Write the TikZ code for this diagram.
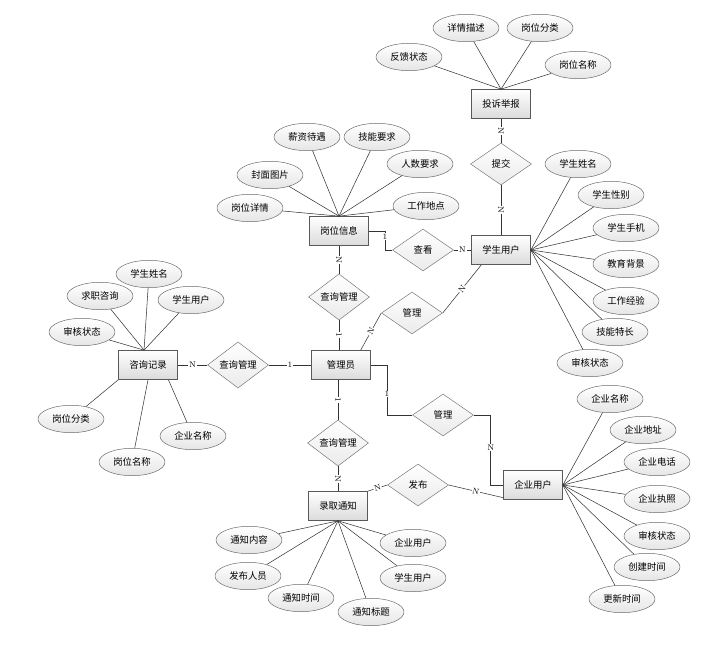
\documentclass[tikz,border=0pt]{standalone}
\usepackage{fontspec}
\newfontfamily\cjk{Noto Sans CJK SC}
\usetikzlibrary{shapes.geometric,shadows}

\begin{document}
\begin{tikzpicture}[
  x=0.03cm, y=-0.03cm,
  font=\cjk\fontsize{8}{9}\selectfont,
  entity/.style={rectangle, draw=black!65, line width=0.6pt,
                 top color=white, bottom color=black!14,
                 minimum width=1.77cm, minimum height=0.87cm, inner sep=1pt,
                 drop shadow={shadow xshift=0.7pt, shadow yshift=-0.7pt, opacity=0.35}},
  relation/.style={diamond, draw=black!55, top color=white, bottom color=black!8,
                   minimum width=1.83cm, minimum height=1.26cm, inner sep=0pt},
  attrib/.style={ellipse, draw=black!60, top color=white, bottom color=black!10,
                 minimum width=1.98cm, minimum height=0.82cm, inner sep=0pt},
  link/.style={draw=black!80, line width=0.45pt},
  card/.style={font=\rmfamily\fontsize{7}{7}\selectfont, fill=white, inner sep=0.6pt},
]
\useasboundingbox (0,0) rectangle (715,646);

\node[entity] (tsjb) at (501,104) {投诉举报};
\node[entity] (gwxx) at (339,231) {岗位信息};
\node[entity] (xsyh) at (501,250) {学生用户};
\node[entity] (zxjl) at (148,365) {咨询记录};
\node[entity] (gly)  at (341,365) {管理员};
\node[entity] (lqtz) at (338,506) {录取通知};
\node[entity] (qyyh) at (533,485) {企业用户};

\node[relation] (tj)    at (501,164) {提交};
\node[relation] (ck)    at (423,250) {查看};
\node[relation] (cxgl1) at (339,297) {查询管理};
\node[relation] (gl1)   at (412,313) {管理};
\node[relation] (cxgl2) at (238,365) {查询管理};
\node[relation] (cxgl3) at (338,443) {查询管理};
\node[relation] (gl2)   at (443,415) {管理};
\node[relation] (fb)    at (418,485) {发布};

\node[attrib] (fkzt)  at (409,57)  {反馈状态};
\node[attrib] (xqms)  at (466,28)  {详情描述};
\node[attrib] (gwfl)  at (540,28)  {岗位分类};
\node[attrib] (gwmc)  at (578,65)  {岗位名称};

\node[attrib] (xzdy)  at (307,137) {薪资待遇};
\node[attrib] (jnyq)  at (377,137) {技能要求};
\node[attrib] (rsyq)  at (420,164) {人数要求};
\node[attrib] (fmtp)  at (270,175) {封面图片};
\node[attrib] (gwxq)  at (250,208) {岗位详情};
\node[attrib] (gzdd)  at (426,206) {工作地点};

\node[attrib] (xsxm)  at (578,164) {学生姓名};
\node[attrib] (xsxb)  at (611,195) {学生性别};
\node[attrib] (xssj)  at (626,228) {学生手机};
\node[attrib] (jybj)  at (626,264) {教育背景};
\node[attrib] (gzjy)  at (626,301) {工作经验};
\node[attrib] (jntc)  at (615,332) {技能特长};
\node[attrib] (xshz)  at (590,363) {审核状态};

\node[attrib] (zxxm)  at (149,274) {学生姓名};
\node[attrib] (qzzx)  at (100,296) {求职咨询};
\node[attrib] (zxyh)  at (191,300) {学生用户};
\node[attrib] (zxhz)  at (82,332)  {审核状态};
\node[attrib] (zxfl)  at (71,419)  {岗位分类};
\node[attrib] (zxmc)  at (132,462) {岗位名称};
\node[attrib] (zxqy)  at (193,436) {企业名称};

\node[attrib] (tznr)  at (249,540) {通知内容};
\node[attrib] (fbry)  at (248,576) {发布人员};
\node[attrib] (tzsj)  at (301,598) {通知时间};
\node[attrib] (tzbt)  at (371,612) {通知标题};
\node[attrib] (tzqy)  at (413,543) {企业用户};
\node[attrib] (tzxs)  at (413,578) {学生用户};

\node[attrib] (qymc)  at (610,399) {企业名称};
\node[attrib] (qydz)  at (643,430) {企业地址};
\node[attrib] (qydh)  at (657,462) {企业电话};
\node[attrib] (qyzz)  at (657,499) {企业执照};
\node[attrib] (qyhz)  at (657,536) {审核状态};
\node[attrib] (cjsj)  at (647,567) {创建时间};
\node[attrib] (gxsj)  at (622,599) {更新时间};

\draw[link] (fkzt) -- (tsjb.north);
\draw[link] (xqms) -- (tsjb.north);
\draw[link] (gwfl) -- (tsjb.north);
\draw[link] (gwmc) -- (tsjb.north);

\draw[link] (xzdy) -- (gwxx.north);
\draw[link] (jnyq) -- (gwxx.north);
\draw[link] (rsyq) -- (gwxx.north);
\draw[link] (fmtp) -- (gwxx.north);
\draw[link] (gwxq) -- (gwxx.north);
\draw[link] (gzdd) -- (gwxx.north);

\draw[link] (xsxm) -- (xsyh.east);
\draw[link] (xsxb) -- (xsyh.east);
\draw[link] (xssj) -- (xsyh.east);
\draw[link] (jybj) -- (xsyh.east);
\draw[link] (gzjy) -- (xsyh.east);
\draw[link] (jntc) -- (xsyh.east);
\draw[link] (xshz) -- (xsyh.east);

\draw[link] (zxxm) -- (zxjl.105);
\draw[link] (qzzx) -- (zxjl.105);
\draw[link] (zxyh) -- (zxjl.105);
\draw[link] (zxhz) -- (zxjl.105);
\draw[link] (zxfl) -- (zxjl.south west);
\draw[link] (zxmc) -- (zxjl.south);
\draw[link] (zxqy) -- (zxjl.-36);

\draw[link] (tznr) -- (lqtz.south);
\draw[link] (fbry) -- (lqtz.south);
\draw[link] (tzsj) -- (lqtz.south);
\draw[link] (tzbt) -- (lqtz.south);
\draw[link] (tzqy) -- (lqtz.south);
\draw[link] (tzxs) -- (lqtz.south);

\draw[link] (qymc) -- (qyyh.east);
\draw[link] (qydz) -- (qyyh.east);
\draw[link] (qydh) -- (qyyh.east);
\draw[link] (qyzz) -- (qyyh.east);
\draw[link] (qyhz) -- (qyyh.east);
\draw[link] (cjsj) -- (qyyh.east);
\draw[link] (gxsj) -- (qyyh.east);

\draw[link] (tsjb) -- node[card,sloped]{N} (tj);
\draw[link] (tj) -- node[card,sloped]{N} (xsyh);
\draw[link] (gwxx.east) -- ++(16,0) |- node[card,pos=0.15]{1} (ck.west);
\draw[link] (ck) -- node[card]{N} (xsyh);
\draw[link] (gwxx) -- node[card,sloped]{N} (cxgl1);
\draw[link] (cxgl1) -- node[card,sloped]{1} (cxgl1 |- gly.north);
\draw[link] (gly.37) -- node[card,sloped]{N} (gl1.west);
\draw[link] (gl1.east) -- node[card,sloped]{N} (xsyh.217);
\draw[link] (zxjl) -- node[card]{N} (cxgl2);
\draw[link] (cxgl2) -- node[card]{1} (gly);
\draw[link] (gly.south -| cxgl3) -- node[card,sloped]{1} (cxgl3);
\draw[link] (cxgl3) -- node[card,sloped]{N} (lqtz);
\draw[link] (gly.east) -- ++(16,0) |- node[card,pos=0.29]{1} (gl2.west);
\draw[link] (gl2.east) -- ++(17,0) |- node[card,pos=0.23]{N} (qyyh.west);
\draw[link] (fb.west) -- node[card,sloped]{N} (lqtz.north east);
\draw[link] (fb.east) -- node[card,sloped]{N} (qyyh.203);

\end{tikzpicture}
\end{document}
